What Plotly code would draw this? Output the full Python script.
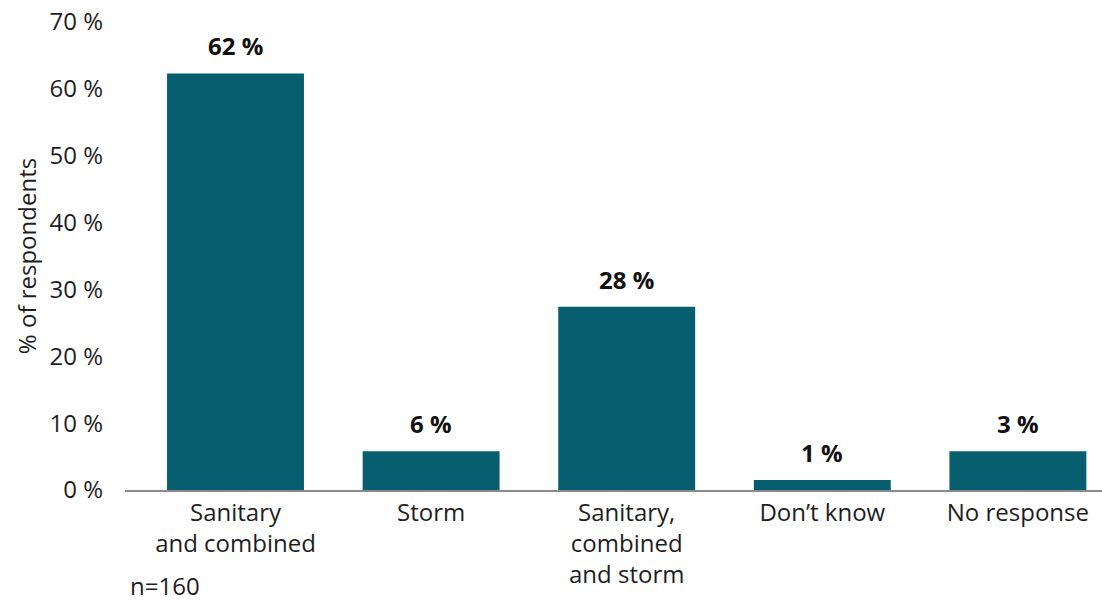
import plotly.graph_objects as go

categories = ["Sanitary<br>and combined", "Storm", "Sanitary,<br>combined<br>and storm", "Don’t know", "No response"]
bar_heights = [62.3, 5.8, 27.4, 1.5, 5.8]
bar_labels = ["62 %", "6 %", "28 %", "1 %", "3 %"]
y_ticks = [0, 10, 20, 30, 40, 50, 60, 70]
y_tick_text = ["0 %", "10 %", "20 %", "30 %", "40 %", "50 %", "60 %", "70 %"]

FONT = "Open Sans"
BAR_COLOR = "#065E6F"
TXT = "#1e1e1e"

fig = go.Figure()
fig.add_trace(go.Bar(
    x=list(range(len(categories))),
    y=bar_heights,
    marker=dict(color=BAR_COLOR, line=dict(width=0)),
    width=0.7,
    hoverinfo="skip",
))

for i, (h, lab) in enumerate(zip(bar_heights, bar_labels)):
    fig.add_annotation(x=i, y=h, text=f"<b>{lab}</b>", showarrow=False,
                       yanchor="bottom", yshift=9,
                       font=dict(family=FONT, size=24, color="#111111"))

fig.add_annotation(x=0.003, y=-0.205, xref="paper", yref="paper", text="n=160",
                   showarrow=False, xanchor="left", yanchor="middle",
                   font=dict(family=FONT, size=24, color=TXT))

fig.update_layout(
    width=1102, height=601,
    margin=dict(l=125, r=0, t=22, b=111),
    paper_bgcolor="white", plot_bgcolor="white",
    showlegend=False,
    font=dict(family=FONT, size=24, color=TXT),
    xaxis=dict(
        range=[-0.565, 4.43],
        tickmode="array", tickvals=list(range(len(categories))), ticktext=categories,
        showgrid=False, zeroline=False,
        showline=True, linecolor="#8a8a8a", linewidth=2,
        ticks="", tickfont=dict(family=FONT, size=24, color=TXT),
    ),
    yaxis=dict(
        range=[0, 70],
        tickmode="array", tickvals=y_ticks, ticktext=y_tick_text,
        showgrid=False, zeroline=False, showline=False,
        ticks="", ticklabelstandoff=21,
        tickfont=dict(family=FONT, size=24, color=TXT),
        title=dict(text="% of respondents", standoff=6,
                   font=dict(family=FONT, size=24, color=TXT)),
    ),
)

fig.write_html("out.html")
